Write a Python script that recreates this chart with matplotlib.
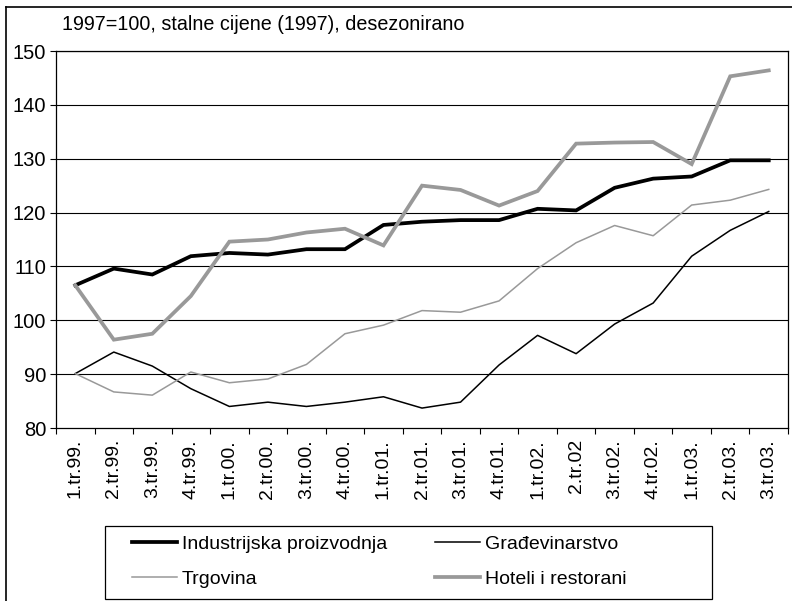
import matplotlib
matplotlib.use("Agg")
import matplotlib.pyplot as plt
import numpy as np
from matplotlib.lines import Line2D
from matplotlib.patches import Rectangle

plt.rcParams['font.family'] = ['Liberation Sans', 'DejaVu Sans']

quarters = ["1.tr.99.", "2.tr.99.", "3.tr.99.", "4.tr.99.",
            "1.tr.00.", "2.tr.00.", "3.tr.00.", "4.tr.00.",
            "1.tr.01.", "2.tr.01.", "3.tr.01.", "4.tr.01.",
            "1.tr.02.", "2.tr.02", "3.tr.02.", "4.tr.02.",
            "1.tr.03.", "2.tr.03.", "3.tr.03."]

industrija = [106.5, 109.6, 108.5, 111.9, 112.5, 112.2, 113.2, 113.2, 117.7,
              118.3, 118.6, 118.6, 120.7, 120.4, 124.6, 126.3, 126.7, 129.7, 129.7]
gradjevinarstvo = [90.1, 94.1, 91.5, 87.3, 84.0, 84.8, 84.0, 84.8, 85.8,
                   83.7, 84.8, 91.7, 97.2, 93.8, 99.3, 103.2, 111.9, 116.7, 120.2]
trgovina = [90.1, 86.7, 86.1, 90.4, 88.4, 89.1, 91.8, 97.5, 99.1,
            101.8, 101.5, 103.6, 109.6, 114.4, 117.6, 115.7, 121.4, 122.3, 124.3]
hoteli = [106.5, 96.4, 97.5, 104.5, 114.6, 115.0, 116.3, 117.0, 113.9,
          125.0, 124.2, 121.3, 124.0, 132.8, 133.0, 133.1, 129.0, 145.3, 146.4]

x = np.arange(len(quarters))
gray = "#999999"

fig = plt.figure(figsize=(7.92, 6.01), dpi=100)
ax = fig.add_axes([56 / 792, 1 - 428 / 601, 732 / 792, 377 / 601])

ax.plot(x, industrija, color="black", lw=2.7, solid_joinstyle="miter", zorder=3)
ax.plot(x, gradjevinarstvo, color="black", lw=1.1, zorder=3)
ax.plot(x, trgovina, color=gray, lw=1.1, zorder=3)
ax.plot(x, hoteli, color=gray, lw=2.7, solid_joinstyle="miter", zorder=3)

ax.set_xlim(-0.5, len(quarters) - 0.5)
ax.set_ylim(80, 150)
ax.set_yticks(np.arange(80, 151, 10))
for v in range(90, 151, 10):
    ax.axhline(v, color="black", lw=0.8, zorder=1)

ax.set_xticks(x)
ax.set_xticklabels(quarters, rotation=90, fontsize=14)
ax.set_xticks(np.arange(-0.5, len(quarters), 1), minor=True)
ax.tick_params(axis="x", which="major", length=0, pad=8)
ax.tick_params(axis="x", which="minor", length=4, width=0.8, direction="out")
ax.tick_params(axis="y", length=4, width=0.8, labelsize=14.5, pad=3)
for s in ax.spines.values():
    s.set_linewidth(0.9)

fig.text(62 / 792, 1 - 25 / 601, "1997=100, stalne cijene (1997), desezonirano",
         fontsize=14.2, va="center", ha="left")

# legend frame drawn separately (wider than its contents)
fig.add_artist(Rectangle((105 / 792, 1 - 599 / 601), 607 / 792, 73 / 601,
                         transform=fig.transFigure, fill=False,
                         edgecolor="black", lw=0.9))

handles = [Line2D([], [], color="black", lw=2.7),
           Line2D([], [], color=gray, lw=1.1),
           Line2D([], [], color="black", lw=1.1),
           Line2D([], [], color=gray, lw=2.7)]
labels = ["Industrijska proizvodnja", "Trgovina", "Građevinarstvo", "Hoteli i restorani"]
leg = fig.legend(handles, labels, ncol=2, loc="upper left",
                 bbox_to_anchor=(132 / 792, 1 - 535 / 601),
                 fontsize=14, frameon=False,
                 handlelength=2.3, handletextpad=0.25,
                 columnspacing=2.5, labelspacing=0.9, borderaxespad=0, borderpad=0)

# outer border of the chart area (cut off on right and bottom)
fig.add_artist(Line2D([6 / 792, 6 / 792], [0, 1 - 7 / 601], color="black", lw=1.2,
                      transform=fig.transFigure))
fig.add_artist(Line2D([6 / 792, 1], [1 - 7 / 601, 1 - 7 / 601], color="black", lw=1.2,
                      transform=fig.transFigure))

fig.savefig("out.png", dpi=100)
